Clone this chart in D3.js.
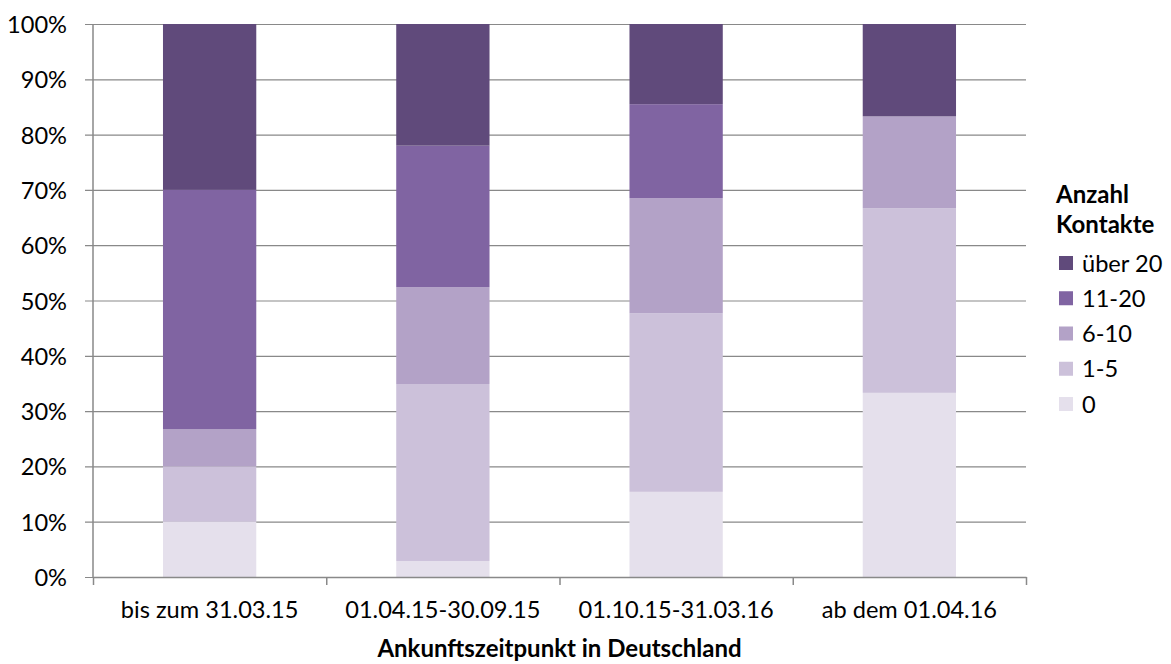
<!DOCTYPE html>
<html>
<head>
<meta charset="utf-8">
<script src="https://cdn.jsdelivr.net/npm/d3@7"></script>
<style>
  html, body { margin: 0; padding: 0; background: #fff; }
  svg { display: block; font-family: Lato, "Open Sans", sans-serif; }
</style>
</head>
<body>
<svg id="chart" width="1171" height="664"></svg>
<script>
// Arrival period categories (x axis)
const categories = ["bis zum 31.03.15", "01.04.15-30.09.15", "01.10.15-31.03.16", "ab dem 01.04.16"];

// Number-of-contacts groups, bottom to top of each stack
const seriesKeys = ["0", "1-5", "6-10", "11-20", "über 20"];

// Shares in percent for each group, one value per category
const share0      = [10.0,  2.9, 15.4, 33.3];
const share1to5   = [10.0, 32.0, 32.3, 33.4];
const share6to10  = [ 6.7, 17.5, 20.8, 16.6];
const share11to20 = [43.3, 25.6, 17.0,  0.0];
const shareOver20 = [30.0, 22.0, 14.5, 16.7];

// Y axis tick values (fractions)
const yTicks = [0, 0.1, 0.2, 0.3, 0.4, 0.5, 0.6, 0.7, 0.8, 0.9, 1.0];

const seriesValues = [share0, share1to5, share6to10, share11to20, shareOver20];
const colors = ["#e5e0ec", "#ccc1da", "#b3a2c7", "#8064a2", "#604a7b"];

const rows = categories.map((c, i) => {
  const r = { category: c };
  seriesKeys.forEach((k, j) => { r[k] = seriesValues[j][i] / 100; });
  return r;
});

const svg = d3.select("#chart");
const plot = { left: 93, right: 1026, top: 24, bottom: 577 };
const fontFamily = 'Lato, "Open Sans", sans-serif';
const fontSize = 23.6;
const titleSize = 24;

const x = d3.scaleBand()
  .domain(categories)
  .range([plot.left, plot.right])
  .paddingInner(0.6)
  .paddingOuter(0.3);

const y = d3.scaleLinear().domain([0, 1]).range([plot.bottom, plot.top]);

const color = d3.scaleOrdinal().domain(seriesKeys).range(colors);

// Horizontal gridlines with short ticks to the left of the axis
const yAxis = d3.axisLeft(y)
  .tickValues(yTicks)
  .tickFormat(d3.format(".0%"))
  .tickSize(-(plot.right - plot.left));

const gy = svg.append("g")
  .attr("transform", `translate(${plot.left},0)`)
  .call(yAxis)
  .attr("font-family", fontFamily)
  .attr("font-size", fontSize);
gy.select(".domain").remove();
gy.selectAll(".tick line")
  .attr("x1", -8)
  .attr("stroke", "#898989")
  .attr("stroke-width", 1.2);
gy.selectAll(".tick text")
  .attr("fill", "#000")
  .attr("x", -26)
  .attr("dy", "0.36em");

// Stacked bars
const stack = d3.stack().keys(seriesKeys);
const layers = stack(rows);

svg.append("g")
  .selectAll("g")
  .data(layers)
  .join("g")
  .attr("fill", d => color(d.key))
  .selectAll("rect")
  .data(d => d)
  .join("rect")
  .attr("x", d => x(d.data.category))
  .attr("width", x.bandwidth())
  .attr("y", d => y(d[1]))
  .attr("height", d => Math.max(0, y(d[0]) - y(d[1])));

// Vertical axis line
svg.append("line")
  .attr("x1", plot.left).attr("x2", plot.left)
  .attr("y1", plot.top).attr("y2", plot.bottom)
  .attr("stroke", "#898989").attr("stroke-width", 1.5);

// Category axis: boundary ticks between categories
const boundary = d3.scaleLinear().domain([0, categories.length]).range([plot.left, plot.right]);
const xAxis = d3.axisBottom(boundary)
  .tickValues(d3.range(categories.length + 1))
  .tickFormat("")
  .tickSize(8)
  .tickSizeOuter(0);
const gx = svg.append("g")
  .attr("transform", `translate(0,${plot.bottom})`)
  .call(xAxis);
gx.select(".domain").attr("stroke", "#898989").attr("stroke-width", 1.5);
gx.selectAll(".tick line").attr("stroke", "#898989").attr("stroke-width", 1.5);

// Category labels
svg.append("g")
  .selectAll("text")
  .data(categories)
  .join("text")
  .attr("x", d => x(d) + x.bandwidth() / 2)
  .attr("y", 618)
  .attr("text-anchor", "middle")
  .style("font-size", fontSize + "px")
  .text(d => d);

// X axis title
svg.append("text")
  .attr("x", (plot.left + plot.right) / 2)
  .attr("y", 657)
  .attr("text-anchor", "middle")
  .style("font-size", titleSize + "px")
  .style("font-weight", "bold")
  .text("Ankunftszeitpunkt in Deutschland");

// Legend
const legend = svg.append("g");
legend.append("text")
  .attr("x", 1056).attr("y", 203)
  .style("font-size", titleSize + "px").style("font-weight", "bold")
  .text("Anzahl");
legend.append("text")
  .attr("x", 1056).attr("y", 233)
  .style("font-size", titleSize + "px").style("font-weight", "bold")
  .text("Kontakte");

const legendKeys = seriesKeys.slice().reverse();
const legendY = d3.scalePoint().domain(legendKeys).range([263, 404]);
const items = legend.selectAll("g.item")
  .data(legendKeys)
  .join("g")
  .attr("class", "item")
  .attr("transform", d => `translate(1059,${legendY(d)})`);
items.append("rect")
  .attr("x", 0).attr("y", -7)
  .attr("width", 14).attr("height", 14)
  .attr("fill", d => color(d));
items.append("text")
  .attr("x", 23).attr("y", 0)
  .attr("dy", "0.36em")
  .style("font-size", fontSize + "px")
  .text(d => d);
</script>
</body>
</html>
